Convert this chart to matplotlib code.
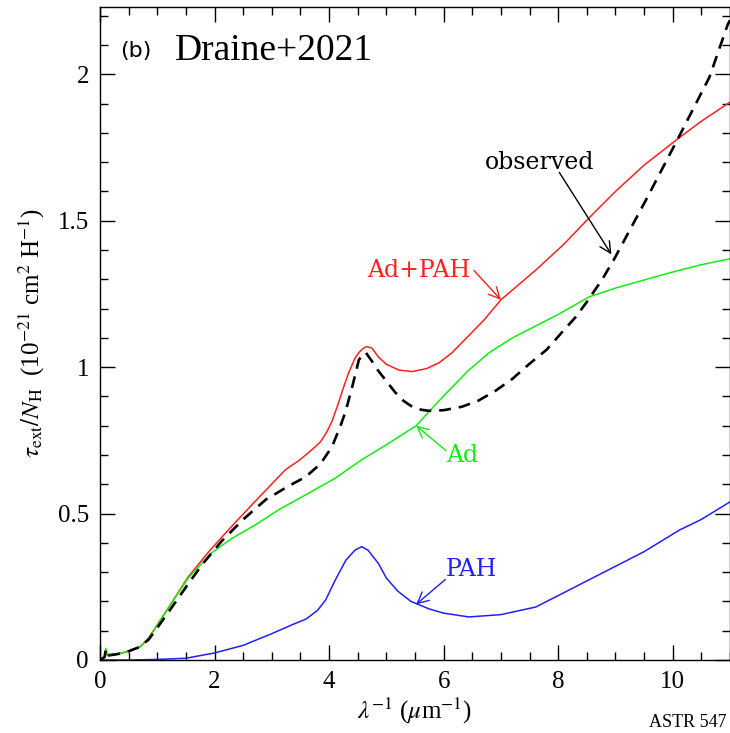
import matplotlib
matplotlib.use('Agg')
import matplotlib.pyplot as plt
from matplotlib.ticker import MultipleLocator

# curves (x = 1/lambda in um^-1)
obs_x = [0, 0.08, 0.1, 0.13, 0.3, 0.5, 0.7, 0.85, 1.0, 1.2, 1.54, 1.8, 2.12, 2.5, 2.89,
         3.3, 3.59, 3.85, 4.05, 4.2, 4.29, 4.4, 4.52, 4.6, 4.64, 4.75, 4.85, 4.99, 5.15,
         5.3, 5.45, 5.6, 5.74, 6.0, 6.32, 6.6, 6.91, 7.2, 7.49, 7.8, 8.07, 8.3, 8.49,
         8.77, 8.98, 9.53, 10.09, 10.64, 10.96, 11.0]
obs_y = [0, 0.01, 0.035, 0.015, 0.02, 0.03, 0.045, 0.07, 0.11, 0.165, 0.26, 0.33, 0.405,
         0.48, 0.547, 0.595, 0.625, 0.67, 0.728, 0.80, 0.85, 0.93, 1.025, 1.045, 1.05,
         1.02, 0.99, 0.955, 0.915, 0.885, 0.865, 0.855, 0.851, 0.853, 0.865, 0.885, 0.92,
         0.96, 1.01, 1.06, 1.12, 1.17, 1.22, 1.30, 1.37, 1.57, 1.78, 1.99, 2.17, 2.185]

tot_x = [0, 0.08, 0.1, 0.13, 0.3, 0.5, 0.7, 0.85, 1.0, 1.2, 1.54, 1.9, 2.24, 2.7, 3.24,
         3.5, 3.7, 3.85, 3.95, 4.05, 4.15, 4.25, 4.34, 4.45, 4.52, 4.6, 4.66, 4.75, 4.86,
         5.0, 5.22, 5.45, 5.7, 5.92, 6.15, 6.35, 6.7, 7.0, 7.3, 7.6, 8.1, 8.54, 9.0, 9.5,
         10.09, 10.5, 11.0]
tot_y = [0, 0.01, 0.03, 0.015, 0.02, 0.03, 0.045, 0.075, 0.12, 0.18, 0.284, 0.37, 0.444,
         0.54, 0.65, 0.685, 0.718, 0.745, 0.775, 0.815, 0.87, 0.93, 0.98, 1.03, 1.05,
         1.065, 1.07, 1.065, 1.035, 1.01, 0.99, 0.985, 0.995, 1.015, 1.05, 1.09, 1.16,
         1.23, 1.28, 1.33, 1.42, 1.51, 1.60, 1.69, 1.78, 1.84, 1.905]

ad_x = [0, 0.08, 0.1, 0.13, 0.3, 0.5, 0.7, 0.85, 1.0, 1.2, 1.54, 1.95, 2.3, 2.7, 3.12,
        3.6, 4.1, 4.57, 5.0, 5.52, 5.8, 6.04, 6.44, 6.8, 7.2, 7.6, 8.0, 8.54, 9.0, 9.54,
        10.0, 10.5, 11.0]
ad_y = [0, 0.01, 0.04, 0.02, 0.02, 0.03, 0.045, 0.075, 0.12, 0.18, 0.28, 0.366, 0.415,
        0.46, 0.513, 0.565, 0.62, 0.684, 0.735, 0.80, 0.86, 0.91, 0.99, 1.05, 1.10, 1.14,
        1.18, 1.24, 1.27, 1.30, 1.325, 1.35, 1.37]

pah_x = [0, 0.5, 1.0, 1.5, 2.0, 2.5, 3.0, 3.35, 3.6, 3.8, 3.94, 4.1, 4.29, 4.45, 4.57,
         4.68, 4.86, 5.0, 5.2, 5.43, 5.74, 6.0, 6.44, 7.0, 7.61, 8.2, 8.77, 9.5, 10.12,
         10.5, 11.0]
pah_y = [0, 0, 0.002, 0.006, 0.024, 0.05, 0.09, 0.12, 0.14, 0.17, 0.205, 0.27, 0.34,
         0.375, 0.387, 0.375, 0.33, 0.28, 0.235, 0.2, 0.175, 0.16, 0.147, 0.155, 0.181,
         0.24, 0.297, 0.37, 0.444, 0.48, 0.54]

# labels: (text, colour, text position, arrow start, arrow tip)
labels = [
    ('observed', 'black', (7.67, 1.70), (8.02, 1.665), (8.93, 1.385)),
    ('Ad+PAH', '#ff2020', (5.57, 1.33), (6.53, 1.33), (7.0, 1.23)),
    ('Ad', '#10ee10', (6.32, 0.70), (6.04, 0.715), (5.52, 0.80)),
    ('PAH', '#2020ff', (6.48, 0.31), (6.03, 0.275), (5.52, 0.19)),
]

plt.rcParams['mathtext.fontset'] = 'stix'
plt.rcParams['font.family'] = ['Liberation Serif', 'DejaVu Serif']

fig = plt.figure(figsize=(7.3, 7.33), dpi=100)
ax = fig.add_axes([100 / 730, 1 - 660 / 733, 630 / 730, 653 / 733])

ax.plot(tot_x, tot_y, color='#ff2020', lw=1.1)
ax.plot(ad_x, ad_y, color='#10ee10', lw=1.1)
ax.plot(pah_x, pah_y, color='#2020ff', lw=1.1)
ax.plot(obs_x, obs_y, color='black', lw=1.9, ls=(0, (4.5, 3)))

ax.set_xlim(0, 11)
ax.set_ylim(0, 2.23)
ax.xaxis.set_major_locator(MultipleLocator(2))
ax.xaxis.set_minor_locator(MultipleLocator(0.5))
ax.yaxis.set_major_locator(MultipleLocator(0.5))
ax.yaxis.set_minor_locator(MultipleLocator(0.1))
ax.yaxis.set_major_formatter(plt.FuncFormatter(lambda v, p: '%g' % v))
ax.tick_params(which='both', direction='in', top=True, right=True, width=1,
               labelsize=18, pad=8)
ax.tick_params(which='major', length=11)
ax.tick_params(which='minor', length=6)
for s in ax.spines.values():
    s.set_linewidth(1)

ax.set_xlabel(r'$\lambda^{-1}$ ($\mu$m$^{-1}$)', fontsize=18, labelpad=2)
ax.set_ylabel(r'$\tau_{\rm ext}/N_{\rm H}$  (10$^{-21}$ cm$^2$ H$^{-1}$)', fontsize=18,
              labelpad=8)

ax.text(0.35, 2.08, '(b)', fontsize=16, va='center', family='DejaVu Sans')
ax.text(1.3, 2.08, 'Draine+2021', fontsize=27, va='center')

for txt, col, pos, start, tip in labels:
    ax.text(pos[0], pos[1], txt, color=col, fontsize=17, family='DejaVu Serif',
            ha='center', va='center')
    ax.annotate('', xy=tip, xytext=start,
                arrowprops=dict(arrowstyle='->', color=col, lw=1, mutation_scale=20,
                                shrinkA=0, shrinkB=0))

fig.text(0.995, 0.003, 'ASTR 547', fontsize=13, va='bottom', ha='right')

fig.savefig('out.png', dpi=100)
